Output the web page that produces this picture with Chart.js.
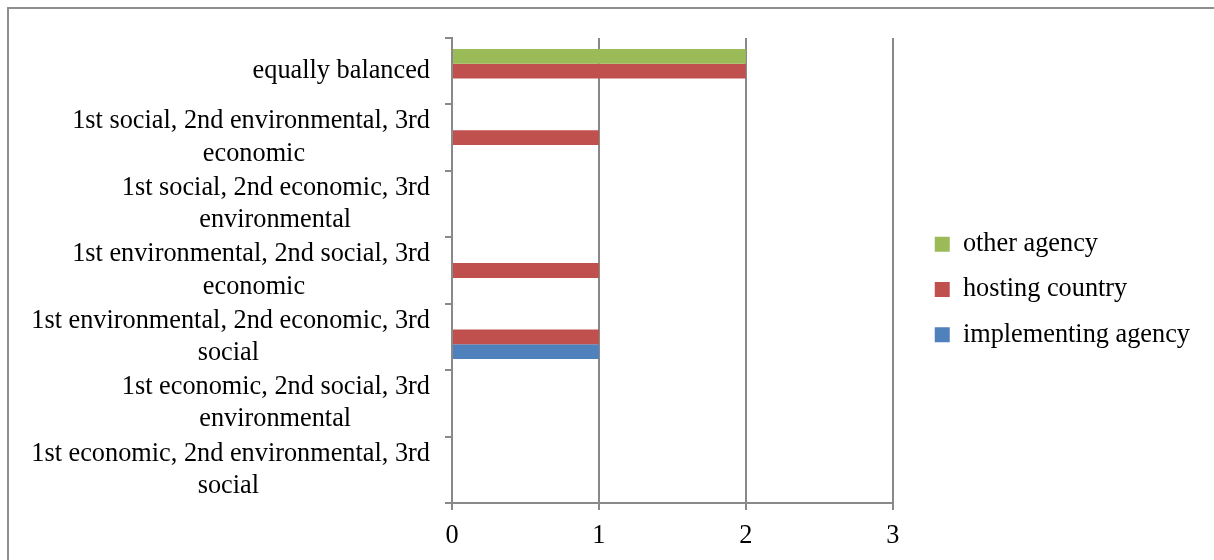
<!DOCTYPE html>
<html>
<head>
<meta charset="utf-8">
<script src="https://cdn.jsdelivr.net/npm/chart.js@4.4.1/dist/chart.umd.min.js"></script>
<style>
    html, body { margin: 0; padding: 0; background: #fff; overflow: hidden; }
    #frame {
        position: absolute; left: 7px; top: 7px; width: 1300px; height: 600px;
        border-left: 2px solid #8e8e8e; border-top: 2px solid #8e8e8e;
    }
    #chart { position: absolute; left: 0; top: 0; }
</style>
</head>
<body>
<div id="frame"></div>
<canvas id="chart" width="1214" height="560"></canvas>
<script>
const categories = [
    'equally balanced',
    ['1st social, 2nd environmental, 3rd', 'economic'],
    ['1st social, 2nd economic, 3rd', 'environmental'],
    ['1st environmental, 2nd social, 3rd', 'economic'],
    ['1st environmental, 2nd economic, 3rd', 'social'],
    ['1st economic, 2nd social, 3rd', 'environmental'],
    ['1st economic, 2nd environmental, 3rd', 'social'],
];
const otherAgency = [2, 0, 0, 0, 0, 0, 0];
const hostingCountry = [2, 1, 0, 1, 1, 0, 0];
const implementingAgency = [0, 0, 0, 0, 1, 0, 0];
const xTicks = [0, 1, 2, 3];

const fontFamily = '"Liberation Serif", "Times New Roman", serif';
const fontSize = 26.3;
const gridColor = '#898989';

// multi-line labels: lines centred on each other, block right-aligned (like Excel)
const measureCtx = document.createElement('canvas').getContext('2d');
function centerLines(label) {
    if (!Array.isArray(label)) {
        return label;
    }
    measureCtx.font = `${fontSize}px ${fontFamily}`;
    const widths = label.map((l) => measureCtx.measureText(l).width);
    const widest = Math.max(...widths);
    const space = measureCtx.measureText(' ').width;
    return label.map((l, i) => l + ' '.repeat(Math.round((widest - widths[i]) / 2 / space)));
}

new Chart(document.getElementById('chart'), {
    type: 'bar',
    data: {
        labels: categories,
        datasets: [
            { label: 'other agency', data: otherAgency, backgroundColor: '#9BBB59' },
            { label: 'hosting country', data: hostingCountry, backgroundColor: '#C0504D' },
            { label: 'implementing agency', data: implementingAgency, backgroundColor: '#4F81BD' },
        ],
    },
    options: {
        indexAxis: 'y',
        responsive: false,
        animation: false,
        layout: {
            padding: { top: 38, right: 14, left: 0, bottom: 0 },
        },
        datasets: {
            bar: {
                categoryPercentage: 0.667,
                barPercentage: 1,
                borderWidth: 0,
            },
        },
        scales: {
            x: {
                min: xTicks[0],
                max: xTicks[xTicks.length - 1],
                afterBuildTicks(scale) {
                    scale.ticks = xTicks.map((v) => ({ value: v }));
                },
                afterFit(scale) {
                    scale.height = 57;
                },
                grid: {
                    color: gridColor,
                    lineWidth: 2,
                    tickLength: 7,
                },
                border: { color: gridColor, width: 2 },
                ticks: {
                    color: '#000',
                    padding: 10,
                    maxRotation: 0,
                    font: { family: fontFamily, size: fontSize },
                },
            },
            y: {
                afterFit(scale) {
                    scale.width = 452;
                    scale.paddingTop = 0;
                    scale.paddingBottom = 0;
                },
                grid: {
                    drawOnChartArea: false,
                    color: gridColor,
                    lineWidth: 2,
                    tickLength: 7,
                },
                border: { color: gridColor, width: 2 },
                ticks: {
                    color: '#000',
                    autoSkip: false,
                    padding: 15,
                    font: { family: fontFamily, size: fontSize, lineHeight: 1.23 },
                    callback(value) {
                        return centerLines(this.getLabelForValue(value));
                    },
                },
            },
            // hidden axis, only keeps a gap between plot and legend
            gap: {
                type: 'category',
                position: 'right',
                display: false,
                afterFit(scale) {
                    scale.width = 23;
                },
            },
        },
        plugins: {
            legend: {
                position: 'right',
                fullSize: false,
                // blank title pushes the items down a little
                title: { display: true, text: '', padding: 0, font: { size: 10, lineHeight: '38px' } },
                labels: {
                    boxWidth: 15,
                    boxHeight: 15,
                    padding: 19,
                    color: '#000',
                    font: { family: fontFamily, size: fontSize },
                },
            },
            tooltip: { enabled: false },
        },
    },
});
</script>
</body>
</html>
